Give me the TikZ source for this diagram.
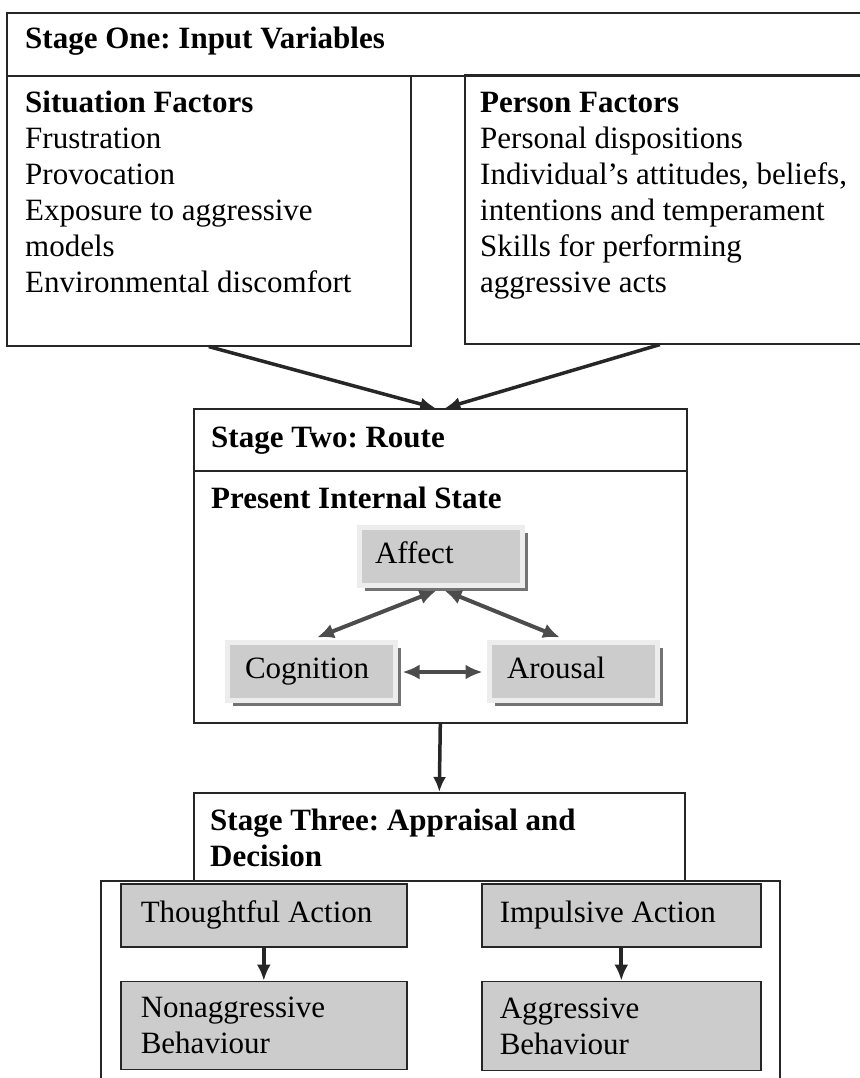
\documentclass[tikz,border=0pt]{standalone}
\usepackage{fontspec}
\setmainfont{Liberation Serif}
\usetikzlibrary{arrows.meta,positioning,shadows}
\frenchspacing

\begin{document}
\begin{tikzpicture}[
    x=1pt, y=1pt,
    >={Latex[length=15pt,width=13pt]},
    every node/.style={font=\fontsize{31}{36}\selectfont},
    panel/.style={draw=black!85, line width=1.6pt, anchor=north west, inner sep=0pt},
    head/.style={anchor=north west, inner sep=0pt, align=left, font=\fontsize{31}{36}\selectfont\bfseries},
    body/.style={anchor=north west, inner sep=0pt, align=left},
    statebox/.style={fill=black!20, draw=black!7, line width=5pt, text width=132pt, align=flush left,
        inner xsep=18pt, inner ysep=16pt, text height=20pt, text depth=6pt,
        drop shadow={shadow xshift=6pt, shadow yshift=-6pt, fill=black!55, opacity=1}},
    action/.style={fill=black!20, draw=black!85, line width=1.6pt, text width=246pt, align=flush left,
        inner xsep=20pt, anchor=north west},
    line/.style={->, line width=3.5pt, draw=black!85},
    small/.style={-{Latex[length=16pt,width=14pt]}, line width=4pt, draw=black!85},
    dline/.style={{Latex[length=17pt,width=15pt]}-{Latex[length=17pt,width=15pt]}, line width=4pt, draw=black!70}
]
\useasboundingbox (0,0) rectangle (859,-1078);

% Stage one
\node[panel, minimum width=864pt, minimum height=63pt] (onehead) at (6,-12) {};
\node[head] (onetitle) at (25,-22.8) {\strut Stage One: Input Variables};
\node[panel, minimum width=404pt, minimum height=270pt] (sitbox) at (6,-75) {};
\node[panel, minimum width=406pt, minimum height=269pt] (perbox) at (464,-74) {};
\node[body] (sittext) at (25,-86.8) {\strut\textbf{Situation Factors}\\Frustration\\Provocation\\Exposure to aggressive\\models\\Environmental discomfort};
\node[body] (pertext) at (480,-86.8) {\strut\textbf{Person Factors}\\Personal dispositions\\Individual's attitudes, beliefs,\\intentions and temperament\\Skills for performing\\aggressive acts};

% Stage two
\node[panel, minimum width=493pt, minimum height=62pt] (twohead) at (193,-408) {};
\node[panel, minimum width=493pt, minimum height=252pt] (twobody) at (193,-470) {};
\node[head] (twotitle) at (211,-421.8) {\strut Stage Two: Route};
\node[head] (statetitle) at (211,-482.8) {\strut Present Internal State};

\draw[line] (sitbox.south) -- ([xshift=-5pt]twohead.north);
\draw[line] ([xshift=-8pt]perbox.south) -- ([xshift=5pt]twohead.north);

\node[statebox, text width=131pt, inner xsep=16pt] (affect) at (440.5,-556) {Affect};
\node[statebox] (cog) at (311,-671) {Cognition};
\node[statebox] (arousal) at (573,-671) {Arousal};

\draw[dline] ([xshift=-4pt,yshift=-3pt]affect.south) -- ([xshift=6pt,yshift=2pt]cog.north);
\draw[dline] ([xshift=4pt,yshift=-3pt]affect.south) -- ([xshift=-13pt,yshift=2pt]arousal.north);
\draw[dline] ([xshift=5pt,yshift=-1pt]cog.east) -- ([xshift=-4pt,yshift=-1pt]arousal.west);

% Stage three
\node[panel, minimum width=491pt, minimum height=88pt] (threehead) at (193,-792) {};
\node[panel, minimum width=679pt, minimum height=210pt] (threebody) at (100,-880) {};
\node[head] (threetitle) at (210,-804.8) {\strut Stage Three: Appraisal and\\Decision};

\draw[line] (twobody.south) -- (threehead.north);

\node[action, minimum height=63pt] (thought) at (120,-883) {Thoughtful Action};
\node[action, minimum height=63pt, text width=243pt, inner xsep=18pt] (impulse) at (481,-883) {Impulsive Action};
\node[action, minimum height=88pt, below=33pt of thought.south west, anchor=north west] (nonagg) {Nonaggressive\\Behaviour};
\node[action, minimum height=89pt, text width=243pt, inner xsep=18pt, below=33pt of impulse.south west, anchor=north west] (agg) {Aggressive\\Behaviour};

\draw[small] (thought) -- (nonagg);
\draw[small] (impulse) -- (agg);

\end{tikzpicture}
\end{document}
